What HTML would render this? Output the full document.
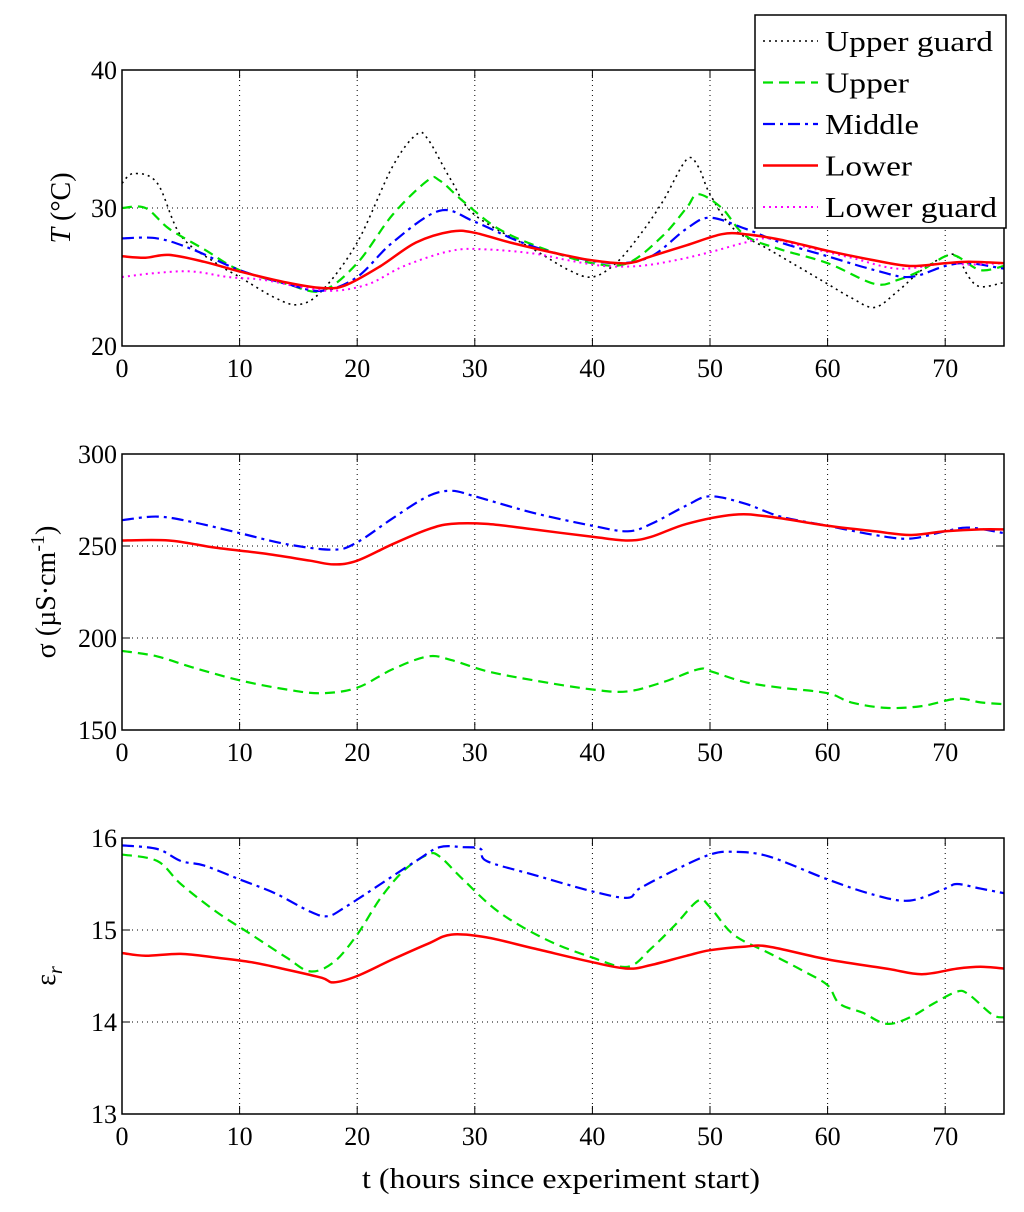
<!DOCTYPE html>
<html><head><meta charset="utf-8"><style>
body{margin:0;background:#fff}
svg{display:block;font-family:"Liberation Serif",serif}
</style></head><body>
<svg id="chart" width="1024" height="1212" viewBox="0 0 1024 1212" xmlns="http://www.w3.org/2000/svg"></svg>
<script>
const xTicks=[0,10,20,30,40,50,60,70];
const tTicks=[20,30,40];
const sTicks=[150,200,250,300];
const eTicks=[13,14,15,16];
// Temperature panel [t, value]
const tUpperGuard=[[0,31.8],[1,32.5],[3,31.8],[5,28],[8,26],[10,25],[13,23.5],[15,23],[17,24],[20,27.5],[23,33],[25,35.3],[26,35],[28,32],[30,29.5],[35,27],[38,25.5],[40,25],[42,26],[44,28],[46,30.5],[48,33.5],[49,33],[50,31],[52,28.5],[55,27],[58,25.5],[60,24.5],[62,23.5],[64,22.8],[66,24],[68,25.5],[70,26.5],[71,26.5],[72,25],[73,24.3],[75,24.6]];
const tUpper=[[0,30],[2,30],[4,28.5],[7,27],[10,25.5],[14,24.5],[17,24],[20,26],[23,29.5],[26,32],[27,32],[29,30.5],[32,28.5],[36,27],[40,26],[43,26],[46,28],[48,30],[49,31],[51,30],[53,28],[56,27],[60,26],[64,24.5],[66,24.8],[68,25.5],[70,26.5],[71,26.5],[73,25.5],[75,25.8]];
const tMiddle=[[0,27.8],[3,27.8],[6,27],[10,25.5],[14,24.5],[17,24],[20,25],[23,27.5],[27,29.8],[30,29],[34,27.5],[38,26.5],[42,26],[45,26.5],[48,28.5],[50,29.3],[53,28.5],[56,27.5],[60,26.5],[64,25.5],[67,25],[70,25.8],[72,26],[75,25.6]];
const tLower=[[0,26.5],[2,26.4],[4,26.6],[7,26.1],[10,25.4],[14,24.6],[17,24.2],[19,24.4],[22,25.8],[25,27.5],[28,28.3],[30,28.2],[33,27.5],[37,26.7],[40,26.2],[43,26],[45,26.5],[48,27.3],[51,28.1],[53,28.1],[56,27.7],[60,26.9],[64,26.2],[67,25.8],[70,26],[72,26.1],[75,26]];
const tLowerGuard=[[0,25],[3,25.3],[6,25.4],[9,25],[12,24.8],[15,24.3],[18,24],[21,24.5],[24,25.8],[28,26.9],[31,27],[35,26.7],[38,26.2],[41,25.8],[44,25.8],[47,26.2],[50,26.8],[53,27.5],[55,27.8],[58,27.2],[62,26.4],[66,25.6],[70,26],[72,25.9],[75,26]];
// Conductivity panel
const sMiddle=[[0,264],[3,266],[6,263],[10,257],[14,251],[18,248],[20,252],[23,265],[26,277],[28,280],[30,277],[35,268],[40,261],[43,258],[45,262],[48,272],[50,277],[53,273],[56,266],[60,261],[64,256],[67,254],[70,258],[72,260],[75,257]];
const sLower=[[0,253],[4,253],[8,249],[12,246],[16,242],[18,240],[20,242],[23,251],[26,259],[28,262],[31,262],[35,259],[40,255],[43,253],[45,255],[48,262],[52,267],[55,266],[60,261],[64,258],[67,256],[70,258],[73,259],[75,259]];
const sUpper=[[0,193],[3,190],[6,184],[10,177],[14,172],[17,170],[20,173],[23,183],[26,190],[28,188],[31,182],[35,177],[40,172],[43,171],[46,176],[49,183],[50,182],[53,176],[56,173],[60,170],[62,165],[65,162],[68,163],[71,167],[73,165],[75,164]];
// Permittivity panel
const eMiddle=[[0,15.92],[3,15.88],[5,15.75],[7,15.7],[10,15.55],[13,15.4],[16,15.2],[17.5,15.15],[19,15.25],[22,15.5],[25,15.75],[27,15.9],[29,15.9],[30.5,15.88],[31,15.75],[35,15.6],[40,15.42],[43,15.35],[44,15.45],[47,15.65],[50,15.82],[52,15.85],[55,15.8],[60,15.55],[64,15.38],[67,15.32],[70,15.45],[71,15.5],[73,15.45],[75,15.4]];
const eUpper=[[0,15.82],[3,15.75],[5,15.5],[8,15.2],[11,14.95],[14,14.7],[16,14.55],[18,14.65],[20,14.95],[22,15.35],[24,15.65],[26,15.82],[27,15.8],[29,15.55],[32,15.2],[36,14.9],[40,14.7],[43,14.6],[45,14.8],[47,15.05],[49,15.32],[50,15.25],[52,14.95],[55,14.75],[58,14.55],[60,14.4],[61,14.2],[63,14.1],[65,13.98],[67,14.05],[69,14.2],[71,14.33],[72,14.3],[74,14.08],[75,14.05]];
const eLower=[[0,14.75],[2,14.72],[5,14.74],[8,14.7],[11,14.65],[14,14.57],[17,14.48],[18,14.43],[20,14.5],[23,14.68],[26,14.85],[28,14.95],[31,14.92],[35,14.8],[40,14.65],[43,14.58],[45,14.62],[48,14.72],[50,14.78],[53,14.82],[55,14.82],[60,14.68],[65,14.58],[68,14.52],[71,14.58],[73,14.6],[75,14.58]];

const NS="http://www.w3.org/2000/svg";
const svg=document.getElementById('chart');
function mk(tag,attrs,parent){const e=document.createElementNS(NS,tag);for(const k in attrs)e.setAttribute(k,attrs[k]);(parent||svg).appendChild(e);return e;}
const X0=122,X1=1004;
function xs(t){return X0+(t/75)*(X1-X0);}
const styles={
 upperGuard:{stroke:'#000',dash:'2,4',w:1.6},
 upper:{stroke:'#00e000',dash:'10,6',w:2.2},
 middle:{stroke:'#0000ff',dash:'12,5,3,5',w:2.2},
 lower:{stroke:'#ff0000',dash:'',w:2.5},
 lowerGuard:{stroke:'#ff00ff',dash:'2,4',w:2}
};
function smoothPath(pts){
  let d='M'+pts[0][0].toFixed(1)+','+pts[0][1].toFixed(1);
  for(let i=0;i<pts.length-1;i++){
    const p0=pts[i-1]||pts[i],p1=pts[i],p2=pts[i+1],p3=pts[i+2]||p2;
    const c1x=p1[0]+(p2[0]-p0[0])/6,c1y=p1[1]+(p2[1]-p0[1])/6;
    const c2x=p2[0]-(p3[0]-p1[0])/6,c2y=p2[1]-(p3[1]-p1[1])/6;
    d+='C'+c1x.toFixed(1)+','+c1y.toFixed(1)+' '+c2x.toFixed(1)+','+c2y.toFixed(1)+' '+p2[0].toFixed(1)+','+p2[1].toFixed(1);
  }
  return d;
}
function panel(name,top,bot,ymin,ymax,yticks,series){
  const g=mk('g',{});
  
  
  const ys=v=>bot-(v-ymin)/(ymax-ymin)*(bot-top);
  xTicks.forEach(t=>{
    if(t>0){const l=mk('line',{x1:xs(t),x2:xs(t),y1:top,y2:bot,stroke:'#000','stroke-width':1,'stroke-dasharray':'1,4'},g);
    }
    mk('line',{x1:xs(t),x2:xs(t),y1:bot,y2:bot-8,stroke:'#000'},g);
    mk('line',{x1:xs(t),x2:xs(t),y1:top,y2:top+8,stroke:'#000'},g);
    const tx=mk('text',{x:xs(t),y:bot+31,'font-size':26,'text-anchor':'middle'},g);tx.textContent=t;
    
  });
  yticks.forEach(v=>{
    const y=ys(v);
    if(v>ymin&&v<ymax){const l=mk('line',{x1:X0,x2:X1,y1:y,y2:y,stroke:'#000','stroke-width':1,'stroke-dasharray':'1,4'},g);
    }
    mk('line',{x1:X0,x2:X0+8,y1:y,y2:y,stroke:'#000'},g);
    mk('line',{x1:X1,x2:X1-8,y1:y,y2:y,stroke:'#000'},g);
    const tx=mk('text',{x:X0-5,y:y+9,'font-size':26,'text-anchor':'end'},g);tx.textContent=v;
    
  });
  series.forEach(([key,data])=>{
    const s=styles[key];
    const p=mk('path',{d:smoothPath(data.map(d=>[xs(d[0]),ys(d[1])])),fill:'none',stroke:s.stroke,'stroke-width':s.w,'stroke-dasharray':s.dash,'stroke-linejoin':'round'},g);
    
    
  });
  const r=mk('rect',{x:X0,y:top,width:X1-X0,height:bot-top,fill:'none',stroke:'#000','stroke-width':1.5},g);
  
}
panel('temperature-panel',70,346,20,40,tTicks,[['upperGuard',tUpperGuard],['upper',tUpper],['middle',tMiddle],['lowerGuard',tLowerGuard],['lower',tLower]]);
panel('conductivity-panel',454,730,150,300,sTicks,[['upper',sUpper],['middle',sMiddle],['lower',sLower]]);
panel('permittivity-panel',838,1114,13,16,eTicks,[['upper',eUpper],['middle',eMiddle],['lower',eLower]]);

// y-axis titles
let t=mk('text',{x:0,y:0,'font-size':28,transform:'translate(70,208) rotate(-90)','text-anchor':'middle'});
t.innerHTML='<tspan font-style="italic">T</tspan> (°C)';

t=mk('text',{x:0,y:0,'font-size':28,transform:'translate(55,592) rotate(-90)','text-anchor':'middle'});
t.innerHTML='σ (µS·cm<tspan dy="-11" font-size="20">-1</tspan><tspan dy="11">)</tspan>';

t=mk('text',{x:0,y:0,'font-size':28,transform:'translate(55,976) rotate(-90)','text-anchor':'middle'});
t.innerHTML='ε<tspan dy="7" font-size="20" font-style="italic">r</tspan>';

t=mk('text',{x:561,y:1188,'font-size':29,'text-anchor':'middle',textLength:398,lengthAdjust:'spacingAndGlyphs'});
t.textContent='t (hours since experiment start)';


// legend
const lg=mk('g',{});


mk('rect',{x:755,y:15,width:251,height:213,fill:'#fff',stroke:'#000','stroke-width':1.5},lg);
const entries=[['upperGuard','Upper guard',168],['upper','Upper',84],['middle','Middle',94],['lower','Lower',87],['lowerGuard','Lower guard',172]];
entries.forEach(([k,label,w],i)=>{
  const y=41+i*41.5;const s=styles[k];
  const e=mk('g',{},lg);
  
  
  mk('line',{x1:763,x2:818,y1:y,y2:y,stroke:s.stroke,'stroke-width':s.w,'stroke-dasharray':s.dash},e);
  const tx=mk('text',{x:825,y:y+10,'font-size':29,textLength:w,lengthAdjust:'spacingAndGlyphs'},e);
  tx.textContent=label;
});
</script>
</body></html>
